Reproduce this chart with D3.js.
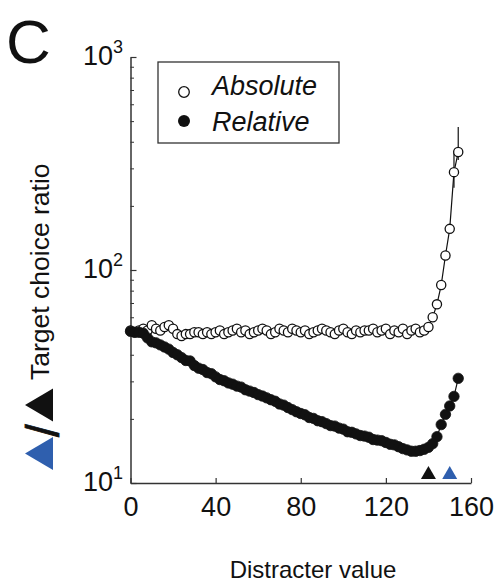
<!DOCTYPE html>
<html>
<head>
<meta charset="utf-8">
<script src="https://cdn.jsdelivr.net/npm/d3@7"></script>
<style>
  html, body { margin: 0; padding: 0; background: #fff; }
  svg { display: block; }
  text { font-family: "Liberation Sans", Arial, Helvetica, sans-serif; fill: #111; }
</style>
</head>
<body>
<svg id="chart" width="495" height="583"></svg>
<script>
// ---------------- data ----------------
const distracterValues = d3.range(0, 155, 2); // 0,2,...,154
const absoluteRatio = [
  52, 51, 52, 53, 52, 55, 53, 52, 54, 55,
  53, 50, 49, 50, 50, 51, 51, 50, 51, 50,
  51, 52, 50, 51, 52, 53, 51, 52, 50, 51,
  52, 53, 52, 50, 51, 53, 52, 51, 53, 52,
  51, 52, 50, 51, 52, 53, 52, 51, 50, 52,
  53, 51, 50, 52, 51, 52, 52, 53, 51, 52,
  53, 50, 52, 51, 53, 50, 52, 53, 51, 52,
  54, 60, 69, 85, 117, 156, 288, 358
];
const relativeRatio = [
  51.5, 51, 51, 50.5, 48, 46, 45.5, 44.5, 43.5, 42.5,
  41, 40, 38.8, 37.6, 37.4, 35.6, 34.6, 34.1, 33, 32.6,
  31.5, 30.6, 30.2, 29.5, 29.1, 28.5, 28.2, 27.4, 27, 26.6,
  26, 25.6, 25.1, 24.6, 24.2, 23.5, 23.2, 22.6, 22.1, 21.6,
  21.2, 20.9, 20.3, 20.1, 19.6, 19.4, 19, 18.6, 18.5, 18.1,
  17.9, 17.4, 17.3, 17, 16.7, 16.6, 16.4, 16, 15.9, 15.8,
  15.5, 15.2, 15.1, 14.8, 14.5, 14.3, 14.1, 14.1, 14.2, 14.4,
  14.7, 15.3, 16.5, 18.8, 21, 23, 25.5, 31
];
const absoluteErrors = [ // [x, low, high]
  [152, 243, 354],
  [154, 328, 469]
];
const markerValues = [140, 150];
const markerColors = ["#111111", "#2f5fae"];
const xTicks = [0, 40, 80, 120, 160];
const yMajorTicks = [10, 100, 1000];
const yExponents = ["1", "2", "3"];
const yMinorTicks = [20, 30, 40, 50, 60, 70, 80, 90, 200, 300, 400, 500, 600, 700, 800, 900];
const legendLabels = ["Absolute", "Relative"];

// ---------------- layout ----------------
const svg = d3.select("#chart");
svg.append("rect").attr("width", 495).attr("height", 583).attr("fill", "#fff");

const x = d3.scaleLinear().domain([0, 160]).range([130.5, 471]);
const y = d3.scaleLog().domain([10, 1000]).range([483, 57]);
const axisColor = "#333";

// axes
const xAxis = svg.append("g").attr("transform", "translate(0,483)")
  .call(d3.axisBottom(x).tickValues(xTicks).tickSizeInner(-5).tickSizeOuter(0).tickPadding(12).tickFormat(d3.format("d")));
xAxis.select(".domain").attr("stroke", axisColor).attr("stroke-width", 1.5);
xAxis.selectAll(".tick line").attr("stroke", axisColor).attr("stroke-width", 1.2);
xAxis.selectAll(".tick text").attr("font-size", 27).attr("fill", "#111")
  .attr("font-family", "Liberation Sans, Arial, sans-serif").attr("y", 10).attr("dy", "0.85em");

const yAxis = svg.append("g").attr("transform", "translate(130.5,0)")
  .call(d3.axisLeft(y).tickValues(yMajorTicks).tickSizeInner(-6).tickSizeOuter(0).tickFormat(() => ""));
yAxis.select(".domain").attr("stroke", axisColor).attr("stroke-width", 1.5);
yAxis.selectAll(".tick line").attr("stroke", axisColor).attr("stroke-width", 1.2);

const yMinor = svg.append("g").attr("transform", "translate(130.5,0)")
  .call(d3.axisLeft(y).tickValues(yMinorTicks).tickSizeInner(-3.5).tickSizeOuter(0).tickFormat(() => ""));
yMinor.select(".domain").remove();
yMinor.selectAll(".tick line").attr("stroke", axisColor).attr("stroke-width", 1);

// y tick labels with superscripts
yMajorTicks.forEach((v, i) => {
  const t = svg.append("text").attr("x", 123).attr("y", y(v) + 8)
    .attr("text-anchor", "end").attr("font-size", 27);
  t.append("tspan").text("10");
  t.append("tspan").attr("dy", -12).attr("font-size", 18).text(yExponents[i]);
});

// panel letter
svg.append("text").attr("x", 6).attr("y", 63).attr("font-size", 62).text("C");

// axis titles
svg.append("text").attr("x", 313).attr("y", 578).attr("text-anchor", "middle")
  .attr("font-size", 24).text("Distracter value");

const yl = svg.append("g").attr("transform", "translate(49,0) rotate(-90)");
// blue and black triangles (local frame: u along text, v perpendicular)
const triPath = (uc) => `M${uc - 16.5},4 L${uc + 16.5},4 L${uc},-24 Z`;
yl.append("path").attr("d", triPath(-453.5)).attr("fill", "#2f5fae");
yl.append("path").attr("d", triPath(-405)).attr("fill", "#111");
yl.append("text").attr("x", -437).attr("y", 10).attr("font-size", 46)
  .attr("stroke", "#111").attr("stroke-width", 0.8).text("/");
yl.append("text").attr("x", -380).attr("y", 0).attr("font-size", 26.5)
  .text("Target choice ratio");

// ---------------- data marks ----------------
const absData = distracterValues.map((d, i) => ({ x: d, y: absoluteRatio[i] }));
const relData = distracterValues.map((d, i) => ({ x: d, y: relativeRatio[i] }));
const line = d3.line().x(d => x(d.x)).y(d => y(d.y));

// error bars
svg.append("g").selectAll("line").data(absoluteErrors).join("line")
  .attr("x1", d => x(d[0])).attr("x2", d => x(d[0]))
  .attr("y1", d => y(d[1])).attr("y2", d => y(d[2]))
  .attr("stroke", "#111").attr("stroke-width", 1.2);

svg.append("path").datum(absData).attr("d", line)
  .attr("fill", "none").attr("stroke", "#111").attr("stroke-width", 1.2);
svg.append("g").selectAll("circle").data(absData).join("circle")
  .attr("cx", d => x(d.x)).attr("cy", d => y(d.y)).attr("r", 4.6)
  .attr("fill", "#fff").attr("stroke", "#111").attr("stroke-width", 1.3);

svg.append("path").datum(relData).attr("d", line)
  .attr("fill", "none").attr("stroke", "#111").attr("stroke-width", 1.2);
svg.append("g").selectAll("circle").data(relData).join("circle")
  .attr("cx", d => x(d.x)).attr("cy", d => y(d.y)).attr("r", 5.2)
  .attr("fill", "#111").attr("stroke", "#111").attr("stroke-width", 0.8);

// triangle markers at bottom
svg.append("g").selectAll("path").data(markerValues).join("path")
  .attr("d", d => `M${x(d) - 7.5},479 L${x(d) + 7.5},479 L${x(d)},466 Z`)
  .attr("fill", (d, i) => markerColors[i]);

// ---------------- legend ----------------
const lg = svg.append("g");
lg.append("rect").attr("x", 158).attr("y", 62).attr("width", 181).attr("height", 81)
  .attr("fill", "#fff").attr("stroke", axisColor).attr("stroke-width", 1.3);
lg.append("circle").attr("cx", 184).attr("cy", 92).attr("r", 5.3)
  .attr("fill", "#fff").attr("stroke", "#111").attr("stroke-width", 1.3);
lg.append("circle").attr("cx", 184).attr("cy", 121).attr("r", 6)
  .attr("fill", "#111");
legendLabels.forEach((lab, i) => {
  lg.append("text").attr("x", 212).attr("y", 95 + i * 36)
    .attr("font-size", 27).attr("font-style", "italic").text(lab);
});
</script>
</body>
</html>
